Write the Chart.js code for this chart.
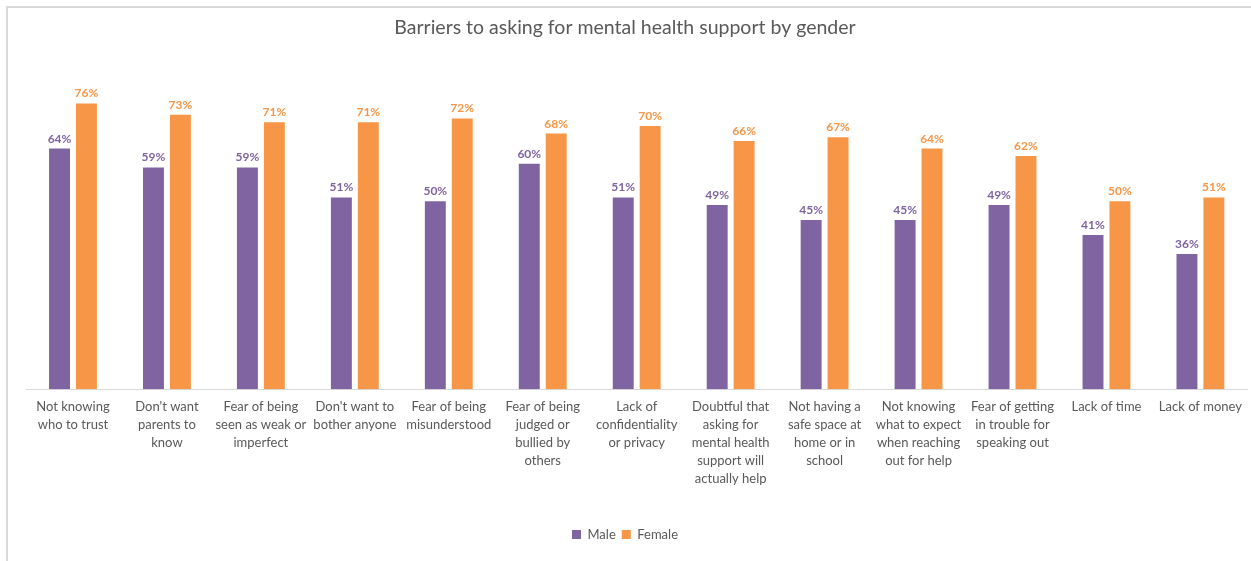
<!DOCTYPE html>
<html>
<head>
<meta charset="utf-8">
<script src="https://cdn.jsdelivr.net/npm/chart.js@4.4.1/dist/chart.umd.min.js"></script>
<style>
  html, body { margin: 0; padding: 0; background: #fff; }
  #wrap { position: relative; width: 1251px; height: 561px; overflow: hidden; }
  #frame { position: absolute; left: 6px; top: 6px; width: 1300px; height: 600px; border-left: 2px solid #d9d9d9; border-top: 2px solid #d9d9d9; }
  #chart { position: absolute; left: 0; top: 0; }
</style>
</head>
<body>
<div id="wrap">
  <div id="frame"></div>
  <canvas id="chart" width="1251" height="561"></canvas>
</div>
<script>
// Categories (wrapped the same way as the axis shows them)
const categories = [
  ['Not knowing', 'who to trust'],
  ["Don't want", 'parents to', 'know'],
  ['Fear of being', 'seen as weak or', 'imperfect'],
  ["Don't want to", 'bother anyone'],
  ['Fear of being', 'misunderstood'],
  ['Fear of being', 'judged or', 'bullied by', 'others'],
  ['Lack of', 'confidentiality', 'or privacy'],
  ['Doubtful that', 'asking for', 'mental health', 'support will', 'actually help'],
  ['Not having a', 'safe space at', 'home or in', 'school'],
  ['Not knowing', 'what to expect', 'when reaching', 'out for help'],
  ['Fear of getting', 'in trouble for', 'speaking out'],
  ['Lack of time'],
  ['Lack of money'],
];

// Percent of respondents
const male = [64, 59, 59, 51, 50, 60, 51, 49, 45, 45, 49, 41, 36];
const female = [76, 73, 71, 71, 72, 68, 70, 66, 67, 64, 62, 50, 51];

const PURPLE = '#8064A2';
const ORANGE = '#F79646';
const FONT = 'Lato, "Open Sans", sans-serif';

// value labels above each bar
const barLabels = {
  id: 'barLabels',
  afterDatasetsDraw(chart) {
    const { ctx } = chart;
    ctx.save();
    ctx.font = 'bold 12px ' + FONT;
    ctx.textAlign = 'center';
    ctx.textBaseline = 'alphabetic';
    chart.data.datasets.forEach((ds, i) => {
      const meta = chart.getDatasetMeta(i);
      ctx.fillStyle = ds.backgroundColor;
      meta.data.forEach((bar, j) => {
        ctx.fillText(ds.data[j] + '%', bar.x, bar.y - 6);
      });
    });
    ctx.restore();
  }
};

new Chart(document.getElementById('chart'), {
  type: 'bar',
  data: {
    labels: categories,
    datasets: [
      { label: 'Male', data: male, backgroundColor: PURPLE, categoryPercentage: 0.573, barPercentage: 0.778 },
      { label: 'Female', data: female, backgroundColor: ORANGE, categoryPercentage: 0.573, barPercentage: 0.778 },
    ],
  },
  options: {
    responsive: false,
    animation: false,
    layout: { padding: { left: 0, right: 1, top: 0, bottom: 10 } },
    plugins: {
      title: {
        display: true,
        text: 'Barriers to asking for mental health support by gender',
        color: '#595959',
        font: { family: FONT, size: 19.5, weight: 'normal' },
        padding: { top: 16, bottom: 49 },
      },
      legend: {
        position: 'bottom',
        labels: {
          color: '#595959',
          font: { family: FONT, size: 13 },
          boxWidth: 9,
          boxHeight: 9,
          padding: 6,
        },
      },
      tooltip: { enabled: false },
    },
    scales: {
      x: {
        grid: { display: false, drawTicks: false },
        border: { display: true, color: '#d9d9d9', width: 1 },
        ticks: {
          color: '#595959',
          font: { family: FONT, size: 13, lineHeight: 1.38 },
          maxRotation: 0,
          autoSkip: false,
          padding: 9,
        },
        // leave room between the labels and the legend
        afterFit(scale) { scale.height += 25; },
      },
      y: {
        display: true,
        min: 0,
        max: 80,
        grid: { display: false },
        border: { display: false },
        ticks: { display: false },
        afterFit(scale) { scale.width = 26; },
      },
    },
  },
  plugins: [barLabels],
});
</script>
</body>
</html>
